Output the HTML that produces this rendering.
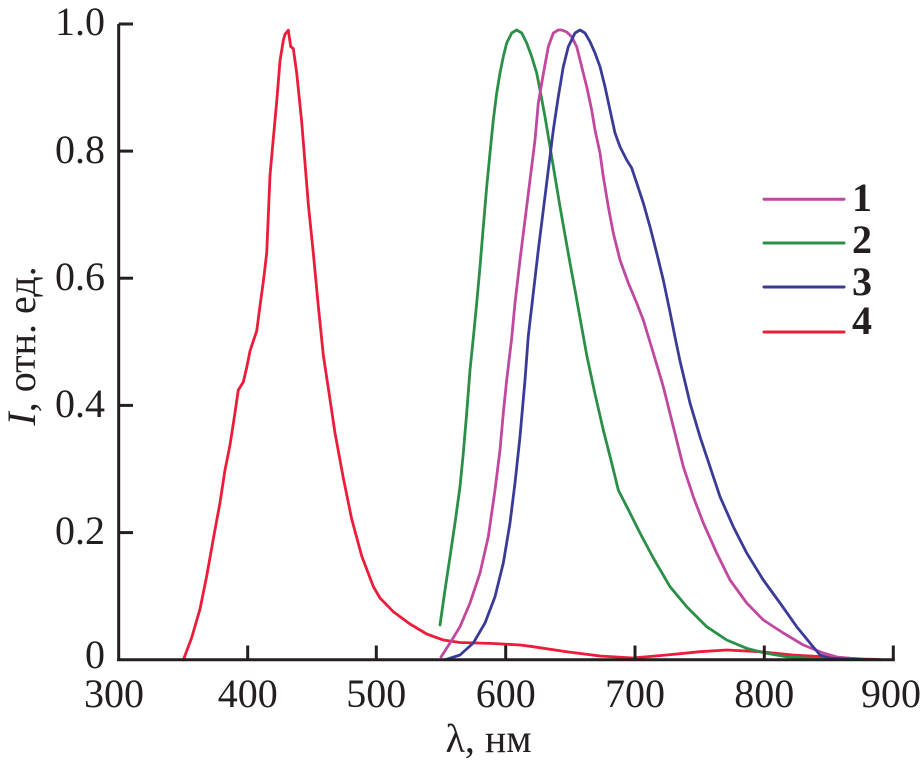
<!DOCTYPE html>
<html>
<head>
<meta charset="utf-8">
<style>
html,body{margin:0;padding:0;background:#fff;}
svg{display:block;}
text{font-family:"Liberation Serif","DejaVu Serif",serif;fill:#231f20;}
</style>
</head>
<body>
<svg width="920" height="765" viewBox="0 0 920 765" xmlns="http://www.w3.org/2000/svg">
<rect width="920" height="765" fill="#fff"/>

<!-- curves -->
<g fill="none" stroke-width="2.8" stroke-linejoin="round" stroke-linecap="round">
<!-- 4 red -->
<polyline stroke="#ec1c3a" points="183.3,660 191.7,637.6 200,609 206.7,576 213.3,539 220,502.6 225,470 230,445 235,412.6 238.3,390 243.3,382 246.7,367.6 250,351 253.3,341 256.7,331 260,306 263.3,281.8 266.7,253 268.3,216 270,175.4 273.3,138.6 276.7,101.8 280,61 283.3,40.4 285,34.3 288.3,30.2 290.7,46.6 293.3,48.6 296.7,73 301.7,122 305,163 308.3,204 313.3,253 318.3,306 323.3,355 328.3,388 335,433 343.3,478 351.7,519 361.7,556 373.3,586.5 380,598 393.3,611.7 410,624 426.7,634 443.3,640 460,642.5 493.3,643.5 520,645 533,646.7 566.7,651.7 600,656 633,658 666.7,655 700,651.7 726.7,650 760,651.7 793,655 826.7,657 863,659 880,659.5"/>
<!-- 2 green -->
<polyline stroke="#2a8f47" points="440,625 445,590 450,556.7 455,523 460,486.7 463.3,453 466.7,413 470,370 473.3,338 476.7,303 480,266.7 483.3,226.7 486.7,186.7 490,153 493.3,120 496.7,93 500,73 503.3,56.7 506.7,43 511.7,33 516.7,30 521.7,33 526.7,43 531.7,56.7 536.7,73 540,90 545,116.7 550,146.7 555,176.7 560,206.7 565,235 570,263 575,290 580,318 586.7,355 595,394 603.3,430 611.7,463 618.3,490 630,513 640,533 653.3,558 670,586.7 686.7,606.7 706.7,626.7 726.7,640 746.7,648.3 763.3,652.7 786.7,656.7 806.7,658 830,659.5"/>
<!-- 1 magenta -->
<polyline stroke="#c2479f" points="441,657 450,643 460,626.7 470,603 480,573 488.3,536.7 495,490 500,450 503.3,413 506.7,380 511.7,338 515,303 520,260 525,220 530,180 535,140 538.3,103 543.3,74 548.3,46.7 553.3,33 558.3,30 561.7,30 566.7,32 571.7,36.7 576.7,46.7 581.7,66.7 586.7,86.7 591.7,110 595,130 600,153 603.3,176.7 608.3,206.7 613.3,233 620,260 628.3,283 636.7,303 643.3,320 653.3,353 663.3,386.7 673.3,426.7 683.3,466.7 693.3,496.7 703.3,523 716.7,553 730,580 746.7,603 763.3,620 783.3,633 803.3,645 823.3,653 836.7,657 863,659.5"/>
<!-- 3 blue -->
<polyline stroke="#3a3b98" points="446,659.5 460,655 473.3,643 485,623 495,596.7 503.3,563 510,523 515,483 520,436.7 525,380 528.3,336 533.3,293 538.3,250 543.3,210 548.3,170 553.3,130 558.3,96.7 563.3,66.7 568.3,46.7 575,33 580,30 585,33 590,41.7 595,53 600,66.7 605,86.7 610,110 615,133 620,146.7 626.7,160 631.7,168 636.7,183 643.3,203 650,226.7 656.7,253 663.3,280 670,312 675,337 680,361 690,403 700,436.7 710,466.7 720,496.7 733.3,526.7 746.7,553 763.3,580 780,603 796.7,626.7 810,643 820,655 830,658.3 863,659.5"/>
</g>

<!-- axes -->
<g stroke="#231f20" stroke-width="3" fill="none">
<line x1="118.7" y1="24" x2="118.7" y2="661"/>
<line x1="117.2" y1="659.7" x2="894.8" y2="659.7"/>
<line x1="118.7" y1="24" x2="133" y2="24"/>
<line x1="118.7" y1="151.1" x2="133" y2="151.1"/>
<line x1="118.7" y1="278.2" x2="133" y2="278.2"/>
<line x1="118.7" y1="405.4" x2="133" y2="405.4"/>
<line x1="118.7" y1="532.6" x2="133" y2="532.6"/>
<line x1="247.7" y1="659.7" x2="247.7" y2="645.5"/>
<line x1="376.3" y1="659.7" x2="376.3" y2="645.5"/>
<line x1="505.7" y1="659.7" x2="505.7" y2="645.5"/>
<line x1="635" y1="659.7" x2="635" y2="645.5"/>
<line x1="764.3" y1="659.7" x2="764.3" y2="645.5"/>
<line x1="893.3" y1="659.7" x2="893.3" y2="645.5"/>
</g>

<!-- y tick labels -->
<g font-size="40" text-anchor="end">
<text x="105" y="35">1.0</text>
<text x="105" y="163">0.8</text>
<text x="105" y="290">0.6</text>
<text x="105" y="417">0.4</text>
<text x="105" y="544">0.2</text>
<text x="105" y="668">0</text>
</g>

<!-- x tick labels -->
<g font-size="40" text-anchor="middle">
<text x="114" y="707">300</text>
<text x="247.7" y="707">400</text>
<text x="376.3" y="707">500</text>
<text x="505.7" y="707">600</text>
<text x="635" y="707">700</text>
<text x="764.3" y="707">800</text>
<text x="891" y="707">900</text>
</g>

<!-- axis titles -->
<text x="488.5" y="752" font-size="40" text-anchor="middle">λ, нм</text>
<text transform="translate(35,346) rotate(-90)" x="0" y="0" font-size="40" text-anchor="middle"><tspan font-style="italic">I</tspan>, отн. ед.</text>

<!-- legend -->
<g stroke-width="3" stroke-linecap="round">
<line x1="764" y1="199.3" x2="844" y2="199.3" stroke="#c2479f"/>
<line x1="764" y1="243" x2="844" y2="243" stroke="#2a8f47"/>
<line x1="764" y1="287" x2="844" y2="287" stroke="#3a3b98"/>
<line x1="764" y1="332" x2="844" y2="332" stroke="#ec1c3a"/>
</g>
<g font-size="40" font-weight="bold">
<text x="852" y="211">1</text>
<text x="852" y="253">2</text>
<text x="852" y="295">3</text>
<text x="852" y="334">4</text>
</g>
</svg>
</body>
</html>
